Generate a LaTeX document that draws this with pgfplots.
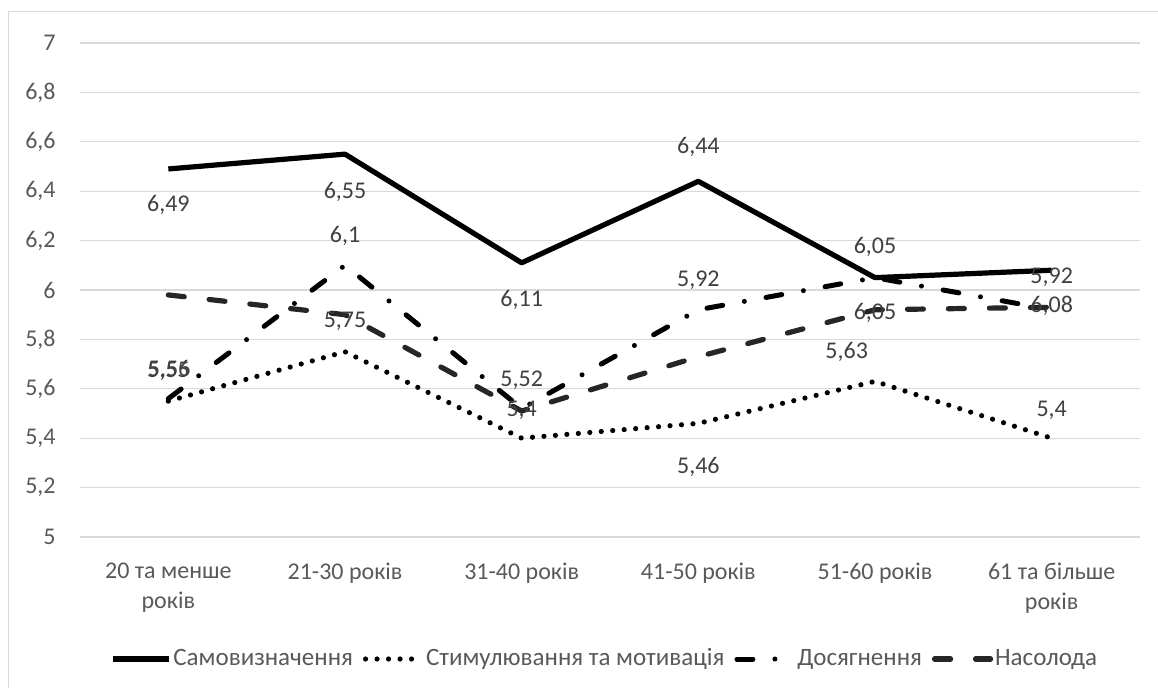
\documentclass[border=0pt]{standalone}
\usepackage{pgfplots}
\pgfplotsset{compat=1.18}
\usepackage{fontspec}
\setmainfont{Carlito}
\definecolor{txt}{HTML}{595959}
\definecolor{lbl}{HTML}{404040}
\definecolor{gridc}{HTML}{D9D9D9}
\definecolor{dashc}{HTML}{262626}
\begin{document}
\fontsize{12}{15}\selectfont
\begin{tikzpicture}[x=1pt,y=1pt]
\useasboundingbox (0,0) rectangle (579,344);
\draw[gridc, line width=0.6pt] (4.25,0) -- (4.25,338.25) -- (579,338.25);
\begin{axis}[
  at={(40pt,75.5pt)}, anchor=south west,
  scale only axis, width=530pt, height=247pt,
  xmin=-0.5, xmax=5.5, ymin=5, ymax=7,
  xtick={0,1,2,3,4,5},
  xticklabels={{20 та менше\\років},{21-30 років},{31-40 років},{41-50 років},{51-60 років},{61 та більше\\років}},
  ytick={5,5.2,5.4,5.6,5.8,6,6.2,6.4,6.6,6.8,7},
  /pgf/number format/.cd, use comma, fixed, precision=1, assume math mode=true,
  /pgfplots/.cd,
  axis line style={draw=none},
  major tick length=0pt,
  ymajorgrids, grid style={gridc, line width=0.6pt},
  xticklabel style={text=txt, inner sep=0pt, anchor=north, yshift=-13pt, align=center, font=\fontsize{12}{15}\selectfont},
  yticklabel style={text=txt, inner sep=0pt, anchor=east, xshift=-12pt, font=\fontsize{12}{15}\selectfont},
  legend columns=4,
  legend style={at={(0.495,-0.247)}, anchor=center, draw=none, fill=none, text=txt, font=\fontsize{12.5}{15}\selectfont,
    /tikz/every even column/.append style={column sep=4pt},
    /tikz/every odd column/.append style={column sep=0pt},
    nodes={inner xsep=1pt}},
  legend image code/.code={\draw[#1] (0pt,0pt) -- (28pt,0pt);},
  clip=false,
]
\addplot[black, line width=2.6pt, line join=round] coordinates {(0,6.49) (1,6.55) (2,6.11) (3,6.44) (4,6.05) (5,6.08)};
\addlegendentry{Самовизначення}
\addplot[black, line width=2.6pt, line cap=round, dash pattern=on 0pt off 5.75pt] coordinates {(0,5.55) (1,5.75) (2,5.40) (3,5.46) (4,5.63) (5,5.40)};
\addlegendentry{Стимулювання та мотивація}
\addplot[black, line width=2.5pt, line cap=round, dash pattern=on 8pt off 11pt on 0pt off 11pt] coordinates {(0,5.56) (1,6.10) (2,5.52) (3,5.92) (4,6.05) (5,5.92)};
\addlegendentry{Досягнення}
\addplot[dashc, line width=2.6pt, line cap=round, dash pattern=on 8pt off 12.5pt] coordinates {(0,5.98) (1,5.90) (2,5.51) (3,5.73) (4,5.92) (5,5.93)};
\addlegendentry{Насолода}
\begin{scope}[every node/.style={text=lbl, inner sep=0pt, font=\fontsize{12}{15}\selectfont}]
\node at (axis cs:0,6.344) {6,49};
\node at (axis cs:1,6.397) {6,55};
\node at (axis cs:1,6.22) {6,1};
\node at (axis cs:2,5.96) {6,11};
\node at (axis cs:3,6.58) {6,44};
\node at (axis cs:3,6.04) {5,92};
\node at (axis cs:4,6.174) {6,05};
\node at (axis cs:4,5.907) {6,05};
\node at (axis cs:3.84,5.75) {5,63};
\node at (axis cs:5,6.05) {5,92};
\node at (axis cs:5,5.935) {6,08};
\node at (axis cs:5,5.514) {5,4};
\node at (axis cs:3,5.283) {5,46};
\node at (axis cs:2,5.636) {5,52};
\node at (axis cs:2,5.514) {5,4};
\node at (axis cs:1,5.874) {5,75};
\node at (axis cs:0,5.672) {5,55};
\node at (axis cs:0.005,5.675) {5,56};
\end{scope}
\end{axis}
\end{tikzpicture}
\end{document}
